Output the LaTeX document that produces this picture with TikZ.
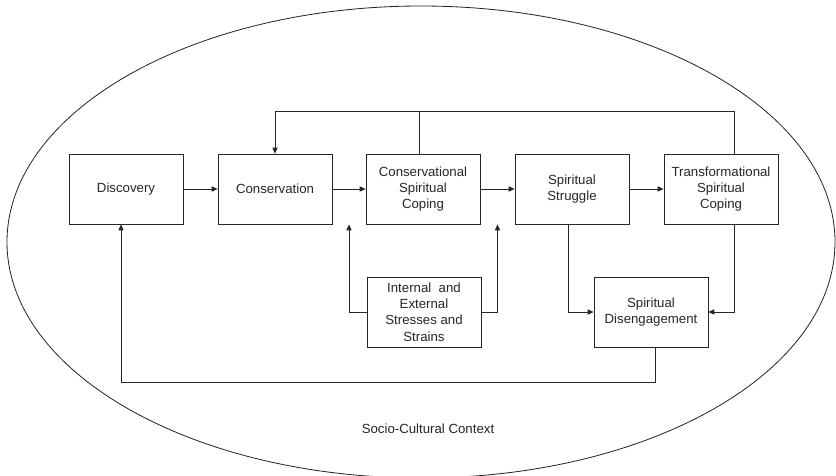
\documentclass[tikz,border=0pt]{standalone}
\usepackage{fontspec}
\setmainfont{Liberation Sans}
\usepackage{tikz}
\usetikzlibrary{arrows.meta, positioning, calc}

\begin{document}
\begin{tikzpicture}[
				x=0.03cm, y=-0.03cm,
				>={Triangle[length=5pt, width=4.4pt]},
				stage/.style={draw=black!85, line width=0.7pt,
					minimum width=3.42cm, minimum height=2.1cm, align=center,
					inner sep=1pt, text=black!85,
					font=\fontsize{11.3}{14}\selectfont},
				link/.style={draw=black!85, line width=0.7pt}
			]
				\useasboundingbox (0,0) rectangle (836,476);

				% context
				\draw[black!85, line width=0.7pt] (421,242) ellipse [x radius=414, y radius=236];
				\node[text=black!85, font=\fontsize{11.3}{14}\selectfont]
					(ctx) at (428,429) {Socio-Cultural Context};

				% stages
				\node[stage] (disc) at (126,189) {Discovery};
				\node[stage] (cons) at (275,189) {Conservation};
				\node[stage] (csc) at (423,189) {Conservational\\Spiritual\\Coping};
				\node[stage] (strug) at (572,189) {Spiritual\\Struggle};
				\node[stage] (trans) at (721,189) {Transformational\\Spiritual\\Coping};
				\node[stage] (stress) at (424,312) {Internal\ \ and\\External\\Stresses and\\Strains};
				\node[stage] (diseng) at (651,312) {Spiritual\\Disengagement};

				\coordinate (fb) at (0,111);

				% main chain
				\draw[link, ->] (disc) -- (cons);
				\draw[link, ->] (cons) -- (csc);
				\draw[link, ->] (csc) -- (strug);
				\draw[link, ->] (strug) -- (trans);

				% feedback to conservation
				\draw[link, ->] ([xshift=0.39cm]trans.north) |- (fb -| cons.north) -- (cons.north);
				\draw[link] ([xshift=-0.12cm]csc.north) -- ([xshift=-0.12cm]csc.north |- fb);

				% stresses and strains
				\draw[link, ->] (stress.west) -| ($(cons.south east)!0.5!(csc.south west)$);
				\draw[link, ->] (stress.east) -| ($(csc.south east)!0.5!(strug.south west)$);

				% disengagement
				\draw[link, ->] ([xshift=-0.12cm]strug.south) |- (diseng.west);
				\draw[link, ->] ([xshift=0.39cm]trans.south) |- (diseng.east);
				\draw[link, ->] ([xshift=0.12cm]diseng.south) -- ++(0,35) -| ([xshift=-0.15cm]disc.south);
			\end{tikzpicture}
\end{document}
